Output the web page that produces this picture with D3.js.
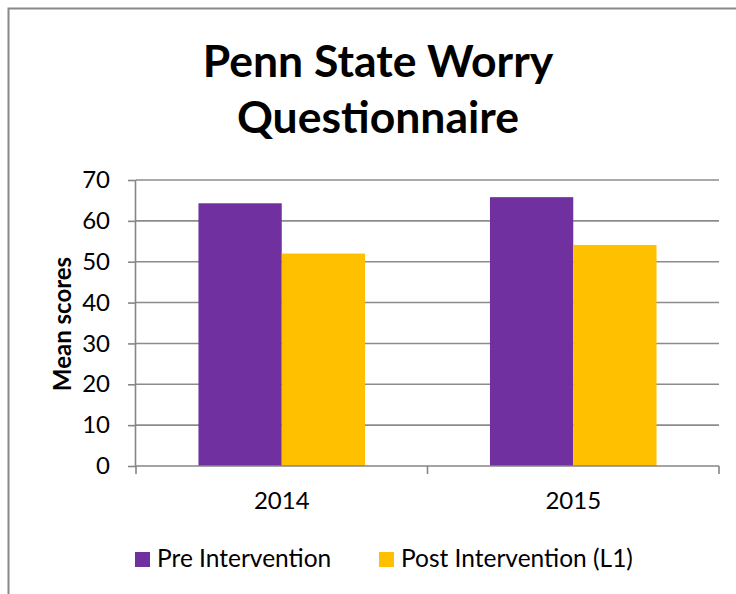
<!DOCTYPE html>
<html><head><meta charset="utf-8">
<script src="https://cdn.jsdelivr.net/npm/d3@7/dist/d3.min.js"></script>
<style>body{margin:0;background:#fff}svg{display:block}</style>
</head><body>
<svg id="c" width="736" height="594"></svg>
<script>
const categories = ["2014", "2015"];
const seriesNames = ["Pre Intervention", "Post Intervention (L1)"];
const preValues = [64.3, 65.8];
const postValues = [52.0, 54.1];
const yTicks = [0, 10, 20, 30, 40, 50, 60, 70];
const colors = ["#7030A0", "#FFC000"];
const titleLines = ["Penn State Worry", "Questionnaire"];
const yTitle = "Mean scores";

const svg = d3.select("#c");
const font = "Lato, 'Open Sans', sans-serif";
svg.append("rect").attr("x", 8.5).attr("y", 8.5).attr("width", 740).attr("height", 600)
  .attr("fill", "#fff").attr("stroke", "#888").attr("stroke-width", 2);

const m = {l: 136, r: 719, t: 180, b: 466};
const x0 = d3.scaleBand().domain(categories).range([m.l, m.r]).paddingInner(0.4286).paddingOuter(0.2143);
const x1 = d3.scaleBand().domain(seriesNames).range([0, x0.bandwidth()]);
const y = d3.scaleLinear().domain([0, 70]).range([m.b, m.t]);

// gridlines
svg.append("g").selectAll("line").data(yTicks.filter(d => d > 0)).join("line")
  .attr("x1", m.l).attr("x2", m.r).attr("y1", d => y(d)).attr("y2", d => y(d))
  .attr("stroke", "#8c8c8c").attr("stroke-width", 1.6);

// bars
const data = categories.map((c, i) => ({c, vals: [preValues[i], postValues[i]]}));
const g = svg.append("g").selectAll("g").data(data).join("g")
  .attr("transform", d => `translate(${x0(d.c)},0)`);
g.selectAll("rect").data(d => d.vals.map((v, j) => ({v, s: seriesNames[j], j}))).join("rect")
  .attr("x", d => x1(d.s)).attr("width", x1.bandwidth())
  .attr("y", d => y(d.v)).attr("height", d => y(0) - y(d.v))
  .attr("fill", d => colors[d.j]);

// y axis
const ya = svg.append("g").attr("transform", `translate(${m.l},0)`)
  .call(d3.axisLeft(y).tickValues(yTicks).tickSize(8).tickPadding(18));
ya.select(".domain").attr("stroke", "#868686").attr("stroke-width", 1.6).attr("d", `M-0.5,${m.t}V${m.b}`);
ya.selectAll(".tick line").attr("stroke", "#868686").attr("stroke-width", 1.6);
ya.selectAll("text").attr("font-family", font).attr("font-size", 24).attr("fill", "#000");

// x axis
const xa = svg.append("g").attr("transform", `translate(0,${m.b})`);
xa.append("line").attr("x1", m.l).attr("x2", m.r).attr("stroke", "#868686").attr("stroke-width", 1.6);
const boundaries = [m.l, (m.l + m.r) / 2, m.r];
xa.selectAll(".bt").data(boundaries).join("line").attr("class", "bt")
  .attr("x1", d => d).attr("x2", d => d).attr("y1", 0).attr("y2", 8)
  .attr("stroke", "#868686").attr("stroke-width", 1.6);
xa.selectAll("text").data(categories).join("text")
  .attr("x", d => x0(d) + x0.bandwidth() / 2).attr("y", 43)
  .attr("text-anchor", "middle").attr("font-family", font).attr("font-size", 24).text(d => d);

// y title
svg.append("text").attr("transform", "translate(71,324) rotate(-90)")
  .attr("text-anchor", "middle").attr("font-family", font).attr("font-weight", "bold")
  .attr("font-size", 24).text(yTitle);

// title
svg.selectAll(".title").data(titleLines).join("text").attr("class", "title")
  .attr("x", 378).attr("y", (d, i) => 77 + i * 56).attr("text-anchor", "middle")
  .attr("font-family", font).attr("font-weight", "bold").attr("font-size", 44.5).text(d => d);

// legend
const legX = [135, 379];
const lg = svg.selectAll(".lg").data(seriesNames).join("g").attr("class", "lg")
  .attr("transform", (d, i) => `translate(${legX[i]},552)`);
lg.append("rect").attr("width", 15).attr("height", 15).attr("fill", (d, i) => colors[i]);
lg.append("text").attr("x", 22).attr("y", 14.5).attr("font-family", font).attr("font-size", 24.5).text(d => d);
</script>
</body></html>
